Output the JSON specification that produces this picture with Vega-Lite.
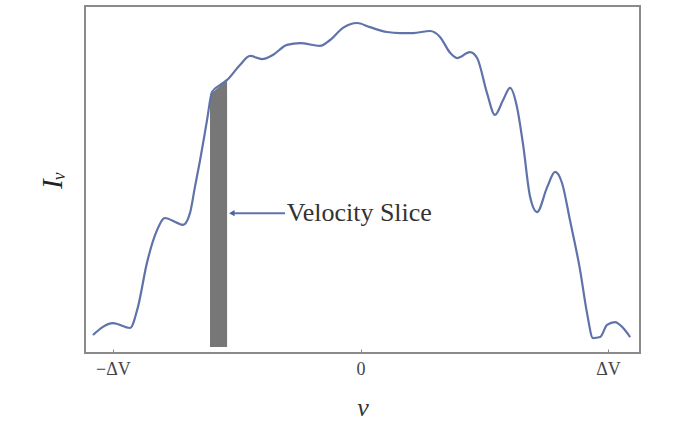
{
  "$schema": "https://vega.github.io/schema/vega-lite/v6.json",
  "width": 555,
  "height": 347,
  "autosize": {"type": "none"},
  "padding": {"left": 85, "top": 6, "right": 37, "bottom": 79},
  "background": "white",
  "config": {
    "view": {"stroke": "#8a8a8a", "strokeWidth": 2},
    "font": "Liberation Serif"
  },
  "datasets": {
    "profile": [
      {"v": -1.081, "I": 0.052}, {"v": -1.0, "I": 0.086}, {"v": -0.931, "I": 0.072},
      {"v": -0.899, "I": 0.133}, {"v": -0.863, "I": 0.259}, {"v": -0.822, "I": 0.354},
      {"v": -0.79, "I": 0.389}, {"v": -0.741, "I": 0.375}, {"v": -0.717, "I": 0.369},
      {"v": -0.689, "I": 0.403}, {"v": -0.669, "I": 0.478}, {"v": -0.648, "I": 0.556},
      {"v": -0.62, "I": 0.671}, {"v": -0.6, "I": 0.752}, {"v": -0.568, "I": 0.772},
      {"v": -0.539, "I": 0.787}, {"v": -0.487, "I": 0.83}, {"v": -0.446, "I": 0.856},
      {"v": -0.398, "I": 0.847}, {"v": -0.354, "I": 0.859}, {"v": -0.297, "I": 0.888},
      {"v": -0.244, "I": 0.893}, {"v": -0.164, "I": 0.885}, {"v": -0.123, "I": 0.902},
      {"v": -0.071, "I": 0.937}, {"v": -0.014, "I": 0.951}, {"v": 0.038, "I": 0.939},
      {"v": 0.107, "I": 0.925}, {"v": 0.16, "I": 0.922}, {"v": 0.212, "I": 0.922},
      {"v": 0.281, "I": 0.928}, {"v": 0.321, "I": 0.911}, {"v": 0.362, "I": 0.865},
      {"v": 0.39, "I": 0.85}, {"v": 0.442, "I": 0.867}, {"v": 0.471, "I": 0.85},
      {"v": 0.511, "I": 0.749}, {"v": 0.543, "I": 0.686}, {"v": 0.576, "I": 0.729},
      {"v": 0.604, "I": 0.764}, {"v": 0.632, "I": 0.709}, {"v": 0.657, "I": 0.599},
      {"v": 0.685, "I": 0.45}, {"v": 0.713, "I": 0.406}, {"v": 0.754, "I": 0.478},
      {"v": 0.786, "I": 0.522}, {"v": 0.814, "I": 0.49}, {"v": 0.846, "I": 0.383},
      {"v": 0.887, "I": 0.239}, {"v": 0.915, "I": 0.115}, {"v": 0.939, "I": 0.043},
      {"v": 0.968, "I": 0.046}, {"v": 0.996, "I": 0.081}, {"v": 1.028, "I": 0.089},
      {"v": 1.061, "I": 0.072}, {"v": 1.089, "I": 0.046}
    ],
    "slice": [
      {"v": -0.608, "top": 0.745, "base": 0.017},
      {"v": -0.539, "top": 0.787, "base": 0.017}
    ],
    "arrow": [
      {"v": -0.52, "I": 0.403},
      {"v": -0.305, "I": 0.403}
    ],
    "head": [
      {"v": -0.52, "I": 0.403}
    ],
    "label": [
      {"v": -0.298, "I": 0.403, "text": "Velocity Slice"}
    ]
  },
  "layer": [
    {
      "data": {"name": "slice"},
      "mark": {"type": "area", "color": "#777777", "interpolate": "linear"},
      "encoding": {
        "x": {"field": "v", "type": "quantitative", "scale": {"domain": [-1.113, 1.129], "nice": false, "zero": false},
          "axis": {"values": [-1, 0, 1], "labelExpr": "datum.value == 0 ? '0' : (datum.value < 0 ? '−ΔV' : 'ΔV')",
            "title": "v", "titleFont": "Liberation Serif", "titleFontStyle": "italic", "titleFontWeight": "normal",
            "titleFontSize": 26, "titleColor": "#333", "titlePadding": 16,
            "labelFont": "Liberation Serif", "labelFontSize": 18, "labelColor": "#444", "labelPadding": 11,
            "tickSize": -4, "tickColor": "#888", "tickWidth": 1, "domain": false, "grid": false}},
        "y": {"field": "top", "type": "quantitative", "scale": {"domain": [0, 1], "nice": false},
          "axis": {"title": "Iᵥ", "titleFont": "Liberation Serif", "titleFontStyle": "italic", "titleFontWeight": "normal",
            "titleFontSize": 29, "titleColor": "#222", "titlePadding": 18,
            "labels": false, "ticks": false, "domain": false, "grid": false}},
        "y2": {"field": "base"}
      }
    },
    {
      "data": {"name": "profile"},
      "mark": {"type": "line", "color": "#5f72aa", "strokeWidth": 2.2, "interpolate": "monotone"},
      "encoding": {
        "x": {"field": "v", "type": "quantitative"},
        "y": {"field": "I", "type": "quantitative"}
      }
    },
    {
      "data": {"name": "arrow"},
      "mark": {"type": "line", "color": "#5f72aa", "strokeWidth": 2},
      "encoding": {
        "x": {"field": "v", "type": "quantitative"},
        "y": {"field": "I", "type": "quantitative"}
      }
    },
    {
      "data": {"name": "head"},
      "mark": {"type": "point", "shape": "triangle-left", "filled": true, "color": "#4f62a0", "size": 40, "opacity": 1},
      "encoding": {
        "x": {"field": "v", "type": "quantitative"},
        "y": {"field": "I", "type": "quantitative"}
      }
    },
    {
      "data": {"name": "label"},
      "mark": {"type": "text", "align": "left", "baseline": "middle", "font": "Liberation Serif", "fontSize": 26, "color": "#333"},
      "encoding": {
        "x": {"field": "v", "type": "quantitative"},
        "y": {"field": "I", "type": "quantitative"},
        "text": {"field": "text"}
      }
    }
  ]
}
